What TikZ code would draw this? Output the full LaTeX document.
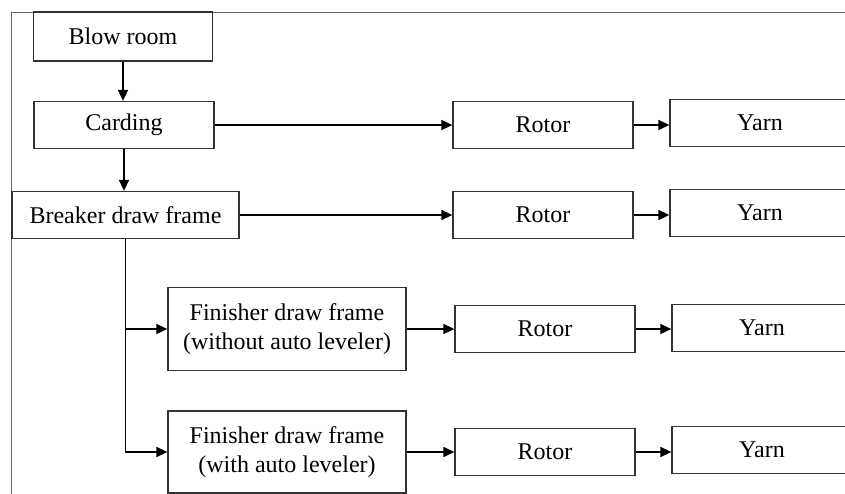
\documentclass[tikz,border=0pt]{standalone}
\usepackage{fontspec}
\setmainfont{Liberation Serif}
\usetikzlibrary{arrows.meta}

\begin{document}
\begin{tikzpicture}[x=1pt, y=-1pt,
  box/.style={draw=black!80, line width=1.3pt, inner sep=0pt, align=center,
    minimum height=47pt, font=\fontsize{24}{28.5}\selectfont},
  link/.style={line width=1.6pt, -{Triangle[length=11pt,width=10pt]}}]
  \clip (0,0) rectangle (845,493);
  \useasboundingbox (0,0) rectangle (845,493);
  \draw[black!60, line width=0.9pt] (11,500) -- (11,12) -- (850,12);

  \node[box, minimum width=179pt, minimum height=49pt] (blow) at (123,36.5) {Blow room};
  \node[box, minimum width=180pt] (card) at (124,125) {Carding};
  \node[box, minimum width=227pt] (brk) at (125.5,215) {Breaker draw frame};
  \node[box, minimum width=238pt, minimum height=83pt] (fin1) at (287,329) {Finisher draw frame\\(without auto leveler)};
  \node[box, minimum width=238pt, minimum height=82pt] (fin2) at (287,452) {Finisher draw frame\\(with auto leveler)};

  \node[box, minimum width=180pt] (rot1) at (543,125) {Rotor};
  \node[box, minimum width=180pt] (rot2) at (543,215) {Rotor};
  \node[box, minimum width=180pt] (rot3) at (545,329) {Rotor};
  \node[box, minimum width=180pt] (rot4) at (545,452) {Rotor};

  \node[box, minimum width=180pt] (yarn1) at (760,123) {Yarn};
  \node[box, minimum width=180pt] (yarn2) at (760,213) {Yarn};
  \node[box, minimum width=180pt] (yarn3) at (762,328) {Yarn};
  \node[box, minimum width=180pt] (yarn4) at (762,450) {Yarn};

  \draw[link] (blow.south) -- (blow.south |- card.north);
  \draw[link] (card.south) -- (card.south |- brk.north);
  \draw[link] (brk.south) |- (fin1.west);
  \draw[link] (brk.south) |- (fin2.west);

  \draw[link] (card.east) -- (rot1.west);
  \draw[link] (brk.east) -- (rot2.west);
  \draw[link] (fin1.east) -- (rot3.west);
  \draw[link] (fin2.east) -- (rot4.west);

  \draw[link] (rot1.east) -- (rot1.east -| yarn1.west);
  \draw[link] (rot2.east) -- (rot2.east -| yarn2.west);
  \draw[link] (rot3.east) -- (rot3.east -| yarn3.west);
  \draw[link] (rot4.east) -- (rot4.east -| yarn4.west);
\end{tikzpicture}
\end{document}
